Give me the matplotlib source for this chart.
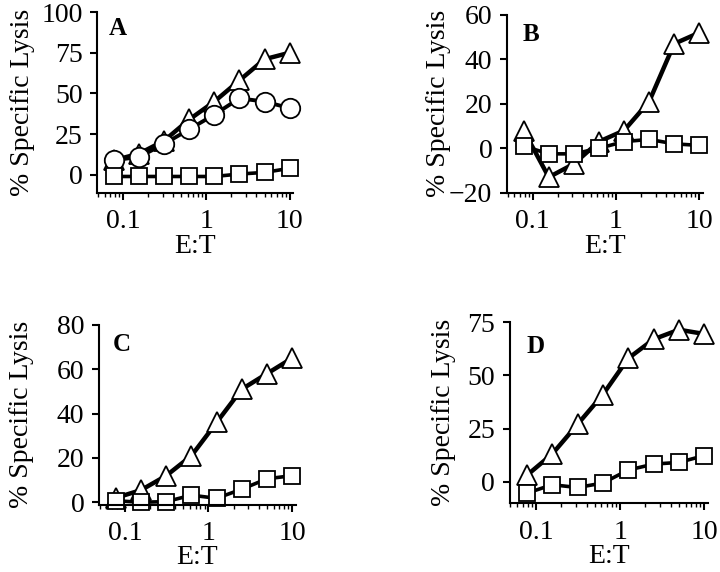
import matplotlib.pyplot as plt
from matplotlib.ticker import FixedLocator, FixedFormatter, LogLocator, NullFormatter

plt.rcParams['font.family'] = ['Liberation Serif', 'DejaVu Serif']

# effector:target ratios (2-fold dilutions)
et = [0.078, 0.156, 0.3125, 0.625, 1.25, 2.5, 5, 10]

# panel A
a_tri = [9, 13, 21, 34, 45, 58, 71, 75]
a_circ = [9, 11, 19, 28, 37, 47, 45, 41]
a_sq = [-1, -1, -1, -1, -1, 0.5, 1.5, 4]
# panel B
b_tri = [8, -13, -7, 3, 8, 21, 47, 52]
b_sq = [1, -2.5, -2.5, 0, 3, 4, 2, 1.3]
# panel C
c_tri = [2, 5.5, 12, 21, 36, 51, 58, 65]
c_sq = [0.7, 0, 0.3, 3.2, 1.8, 5.9, 10.6, 12]
# panel D
d_tri = [3, 13, 27, 41, 58, 67, 71.5, 69.5]
d_sq = [-5.4, -1.4, -2.7, -0.6, 5.5, 8.3, 9.1, 12.3]

panels = [
    ('A', [0.135, 0.663, 0.272, 0.316], (-11, 100), [0, 25, 50, 75, 100],
     [('^', a_tri), ('o', a_circ), ('s', a_sq)], (0.058, 0.975), -0.32),
    ('B', [0.704, 0.663, 0.272, 0.311], (-20, 60), [-20, 0, 20, 40, 60],
     [('^', b_tri), ('s', b_sq)], (0.08, 0.955), -0.286),
    ('C', [0.1375, 0.118, 0.273, 0.314], (-1, 80), [0, 20, 40, 60, 80],
     [('^', c_tri), ('s', c_sq)], (0.07, 0.955), -0.33),
    ('D', [0.708, 0.1206, 0.275, 0.316], (-10, 75), [0, 25, 50, 75],
     [('^', d_tri), ('s', d_sq)], (0.087, 0.93), -0.273),
]

styles = {'^': (15, 3.2), 'o': (14, 2.8), 's': (12, 2.6)}

fig = plt.figure(figsize=(7.2, 5.72), dpi=100)

for letter, rect, ylim, yticks, series, lpos, ylx in panels:
    ax = fig.add_axes(rect)
    for mk, vals in series:
        ms, lw = styles[mk]
        ax.plot(et, vals, color='black', lw=lw, marker=mk, ms=ms,
                mfc='white', mec='black', mew=1.3, clip_on=False)
    ax.set_xscale('log')
    ax.set_xlim(0.049, 11)
    ax.set_ylim(*ylim)
    ax.set_yticks(yticks)
    ax.xaxis.set_major_locator(FixedLocator([0.1, 1, 10]))
    ax.xaxis.set_major_formatter(FixedFormatter(['0.1', '1', '10']))
    ax.xaxis.set_minor_locator(LogLocator(base=10, subs=range(2, 10)))
    ax.xaxis.set_minor_formatter(NullFormatter())
    for s in ['top', 'right']:
        ax.spines[s].set_visible(False)
    for s in ['left', 'bottom']:
        ax.spines[s].set_linewidth(1.5)
    ax.tick_params(which='major', length=5, width=1.5, labelsize=20)
    ax.tick_params(axis='x', which='major', pad=7)
    ax.tick_params(axis='y', which='major', pad=5.5)
    ax.tick_params(which='minor', length=3, width=1.0)
    ax.set_xlabel('E:T', fontsize=20, labelpad=-0.5)
    ax.set_ylabel('% Specific Lysis', fontsize=20)
    ax.yaxis.set_label_coords(ylx, 0.5)
    ax.text(lpos[0], lpos[1], letter, transform=ax.transAxes, fontsize=18,
            fontweight='bold', va='top', ha='left')

fig.savefig('out.png', dpi=100)
